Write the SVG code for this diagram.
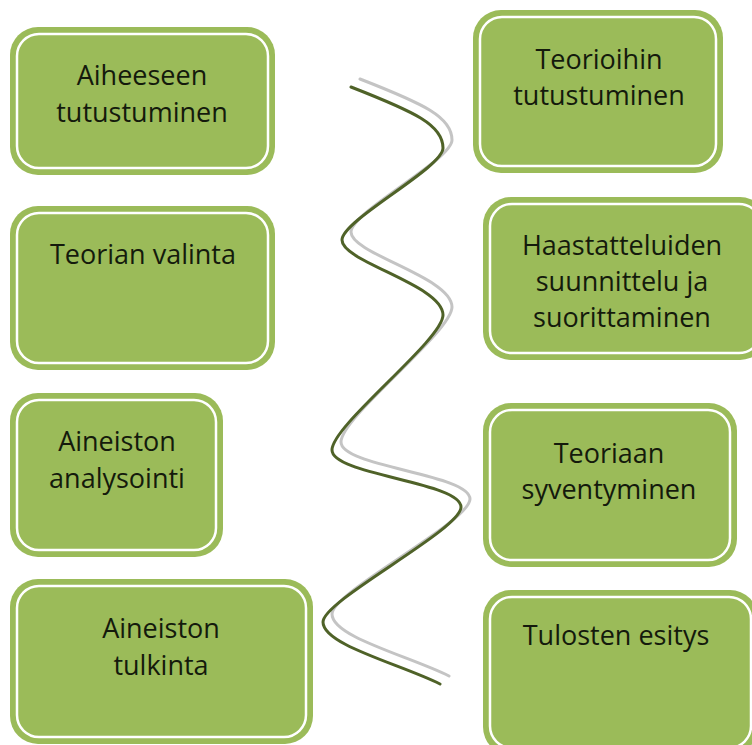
<svg xmlns="http://www.w3.org/2000/svg" width="752" height="745" viewBox="0 0 752 745">
<style>
.box{fill:#9bbb59;}
.inner{fill:none;stroke:#ffffff;stroke-width:2.5;}
.t{font-family:"Open Sans",Lato,"Liberation Sans",sans-serif;font-size:27px;fill:#141a0c;text-anchor:middle;}
.wave{fill:none;stroke-width:3;stroke-linecap:round;}
</style>
<defs>
<path id="wave" d="M351,87 C415,112 443,125 443,148 C443,168 342,220 342,240 C342,262 443,285 443,315 C443,340 332,425 332,450 C332,475 461,482 461,507 C461,530 323,600 323,622 C323,645 400,664 440,684"/>
</defs>
<rect width="752" height="745" fill="#ffffff"/>
<g id="connectors">
<use href="#wave" class="wave" stroke="#c4c4c4" transform="translate(9,-8)"/>
<use href="#wave" class="wave" stroke="#4f6228"/>
</g>
<g id="n1"><rect class="box" x="10" y="27" width="265" height="148" rx="28"/><rect class="inner" x="17" y="34" width="251" height="134" rx="22"/>
<text class="t" x="142" y="85">Aiheeseen</text><text class="t" x="142" y="122">tutustuminen</text></g>
<g id="n2"><rect class="box" x="10" y="206" width="265" height="164" rx="28"/><rect class="inner" x="17" y="213" width="251" height="150" rx="22"/>
<text class="t" x="143" y="264">Teorian valinta</text></g>
<g id="n3"><rect class="box" x="10" y="393" width="213" height="164" rx="28"/><rect class="inner" x="17" y="400" width="199" height="150" rx="22"/>
<text class="t" x="117" y="451">Aineiston</text><text class="t" x="117" y="488">analysointi</text></g>
<g id="n4"><rect class="box" x="10" y="579" width="303" height="165" rx="28"/><rect class="inner" x="17" y="586" width="289" height="151" rx="22"/>
<text class="t" x="161" y="638">Aineiston</text><text class="t" x="161" y="675">tulkinta</text></g>
<g id="n5"><rect class="box" x="473" y="10" width="250" height="163" rx="28"/><rect class="inner" x="480" y="17" width="236" height="149" rx="22"/>
<text class="t" x="599" y="69">Teorioihin</text><text class="t" x="599" y="105">tutustuminen</text></g>
<g id="n6"><rect class="box" x="483" y="197" width="285" height="163" rx="28"/><rect class="inner" x="490" y="204" width="271" height="149" rx="22"/>
<text class="t" x="622" y="255">Haastatteluiden</text><text class="t" x="622" y="291">suunnittelu ja</text><text class="t" x="622" y="327">suorittaminen</text></g>
<g id="n7"><rect class="box" x="483" y="403" width="254" height="164" rx="28"/><rect class="inner" x="490" y="410" width="240" height="150" rx="22"/>
<text class="t" x="609" y="463">Teoriaan</text><text class="t" x="609" y="499">syventyminen</text></g>
<g id="n8"><rect class="box" x="483" y="590" width="275" height="165" rx="28"/><rect class="inner" x="490" y="597" width="261" height="151" rx="22"/>
<text class="t" x="616" y="645">Tulosten esitys</text></g>
</svg>
